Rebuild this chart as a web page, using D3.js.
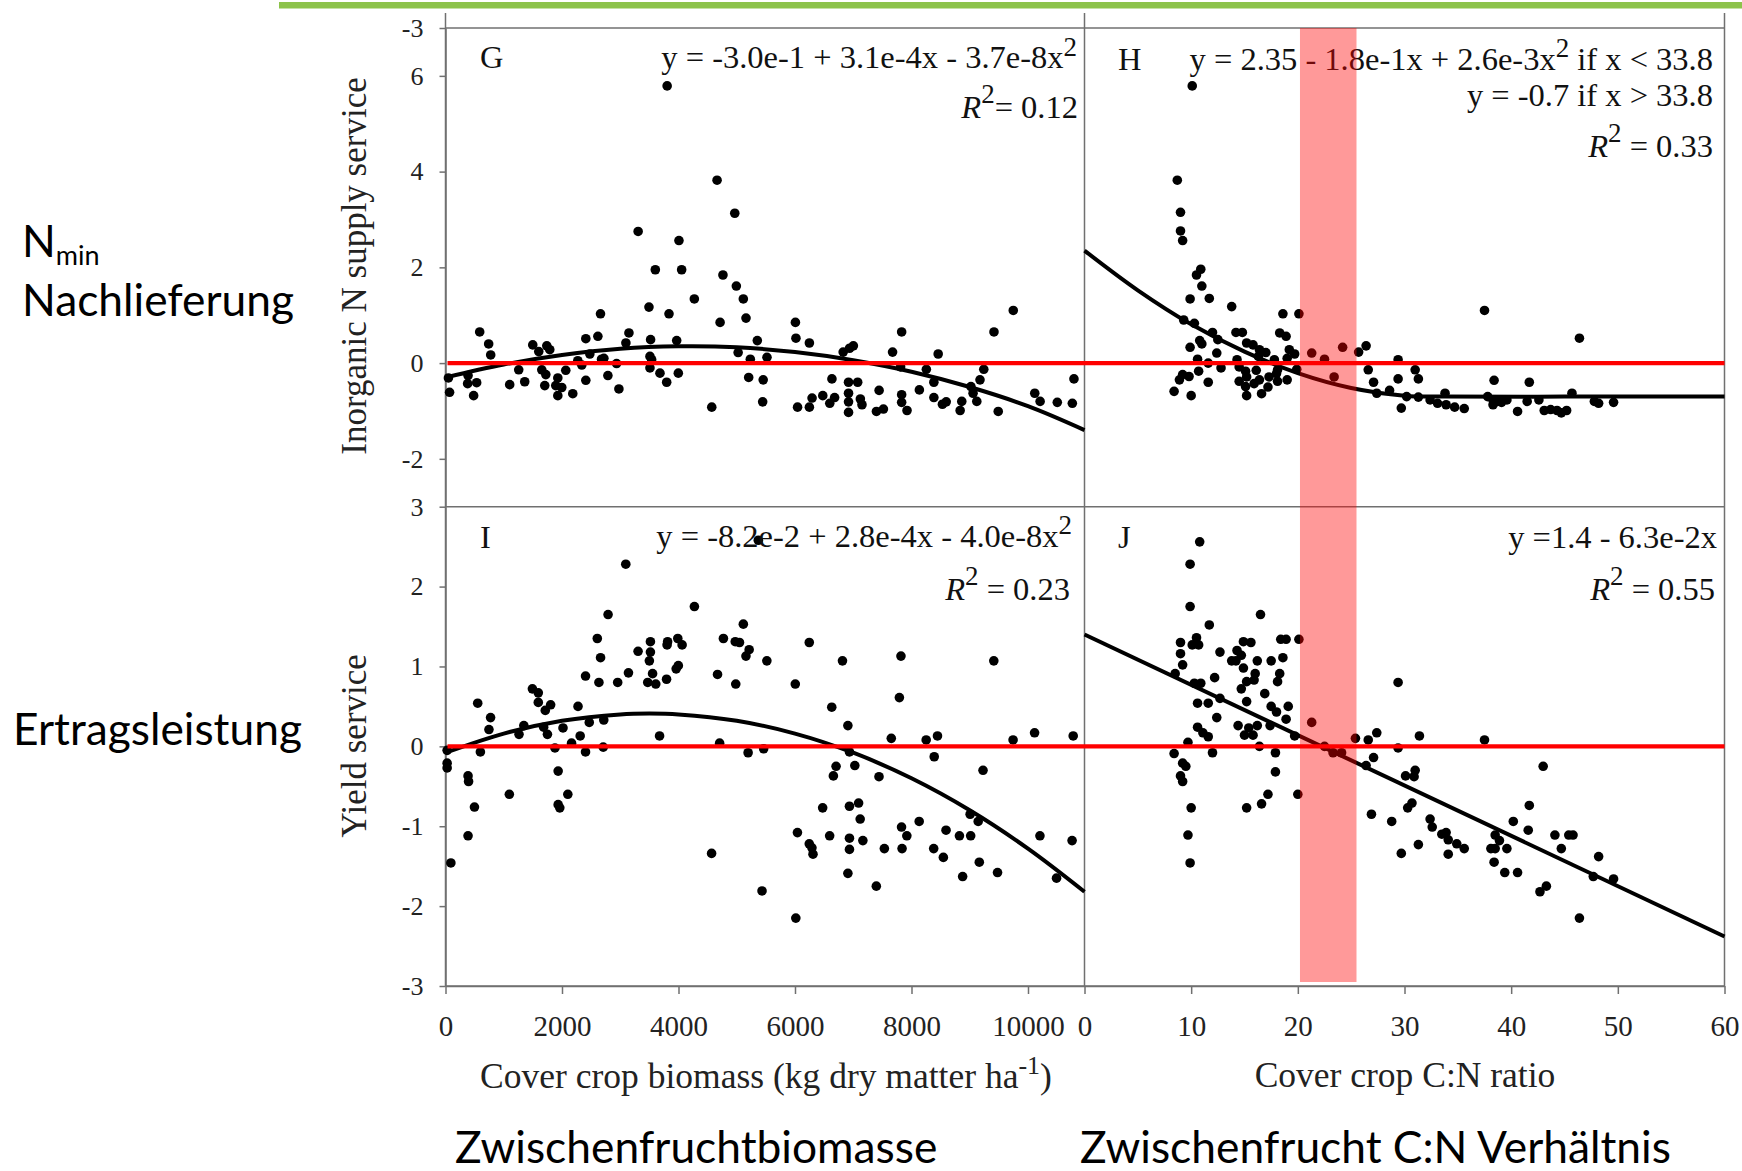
<!DOCTYPE html>
<html>
<head>
<meta charset="utf-8">
<script src="https://cdn.jsdelivr.net/npm/d3@7"></script>
<style>
  body { margin: 0; background: #fff; }
  svg { display: block; }
</style>
</head>
<body>
<div id="chart"></div>
<script>
// Cover crop services vs. biomass (left) and C:N ratio (right)
// top row: inorganic N supply service, bottom row: yield service

// ---- tick values / labels ----
const bioTicks = [0, 2000, 4000, 6000, 8000, 10000];
const cnTicks = [0, 10, 20, 30, 40, 50, 60];
const topTickValues = [-2, 0, 2, 4, 6, 7];
const topTickLabels = ["-2", "0", "2", "4", "6", "-3"];
const botTickValues = [-3, -2, -1, 0, 1, 2, 3];
const botTickLabels = ["-3", "-2", "-1", "0", "1", "2", "3"];

// shaded C:N range
const cnBand = [20.2, 25.5];

// ---- G : N supply vs biomass ----
const gPoints = [
  [3805,5.79],[4662,3.82],[4966,3.13],[3307,2.75],[4008,2.56],[3602,1.95],[4054,1.95],[4763,1.84],
  [4993,1.61],[5113,1.34],[4272,1.34],[3493,1.17],[3837,1.03],[2661,1.03],[5159,0.94],[9747,1.10],
  [4714,0.85],[6007,0.85],
  [587,0.65],[741,0.40],[776,0.17],[70,-0.61],[50,-0.31],[387,-0.26],[380,-0.43],[535,-0.41],[483,-0.68],
  [1102,-0.45],[1257,-0.14],[1360,-0.39],[1498,0.38],[1601,0.24],[1739,0.36],[1790,0.28],[1653,-0.14],
  [1722,-0.24],[1704,-0.47],[1928,-0.31],[1893,-0.47],[1996,-0.51],[1928,-0.68],[2065,-0.15],[2185,-0.64],
  [2271,0.05],[2340,-0.04],[2409,0.51],[2409,-0.36],[2616,0.56],[2478,0.19],[2679,0.08],[2719,0.10],
  [2788,-0.26],[2937,-0.01],[2977,-0.54],[3097,0.42],[3149,0.63],[3521,0.49],[3510,0.14],[3539,0.07],
  [3510,-0.10],[3682,-0.21],[3797,-0.40],[3969,0.47],[3997,-0.21],[5024,0.22],[4571,-0.92],
  [5353,0.47],[6016,0.52],[6247,0.42],[7002,0.36],[6937,0.31],[6827,0.23],[7675,0.23],[8458,0.19],
  [5233,0.08],[5519,0.12],[5205,-0.30],[5454,-0.35],[5445,-0.81],[6044,-0.92],[6247,-0.92],[6293,-0.73],
  [6477,-0.68],[6634,-0.33],[6597,-0.84],[6680,-0.72],[6919,-0.40],[6919,-0.63],[6919,-0.81],[6919,-1.03],
  [7076,-0.40],[7122,-0.75],[7150,-0.87],[7444,-0.57],[7398,-1.01],[7518,-0.96],[7813,-0.08],[7831,0.65],
  [9416,0.65],[7831,-0.66],[7831,-0.82],[7923,-0.99],[8135,-0.56],[8255,-0.13],[8384,-0.40],[8384,-0.72],
  [8531,-0.86],[8596,-0.81],[8835,-0.99],[8863,-0.80],[9020,-0.49],[9057,-0.63],[9121,-0.80],[9176,-0.35],
  [9241,-0.13],[9489,-1.01],[10116,-0.63],[10208,-0.80],[10503,-0.82],[10761,-0.84],[10789,-0.33]
];
const gCurve = [
  [0,-0.30],[1000,-0.03],[2000,0.17],[3000,0.30],[4000,0.35],[5000,0.33],[6000,0.23],
  [7000,0.06],[8000,-0.18],[9000,-0.50],[10000,-0.90],[10970,-1.40]
];

// ---- H : N supply vs C:N ----
const hPoints = [
  [10.1,5.79],[8.7,3.82],[9.0,3.15],[9.0,2.76],[9.2,2.56],[10.9,1.96],[10.5,1.84],[11.0,1.61],
  [9.9,1.34],[11.7,1.35],[13.8,1.18],[18.6,1.03],[20.1,1.03],[37.5,1.10],[46.4,0.52],
  [9.3,0.90],[10.3,0.83],[12.0,0.64],[14.2,0.64],[14.8,0.64],[18.3,0.63],[18.9,0.56],[10.8,0.47],
  [11.0,0.40],[12.5,0.49],[9.9,0.33],[15.2,0.42],[15.8,0.38],[16.4,0.28],[17.0,0.22],[19.2,0.28],
  [19.7,0.19],[21.3,0.21],[24.2,0.33],[25.7,0.23],[26.4,0.36],[12.4,0.21],[10.6,0.08],[11.6,0.00],
  [14.3,0.07],[16.3,0.14],[17.8,0.07],[19.0,0.10],[22.5,0.08],[29.4,0.07],[12.8,-0.10],[14.5,-0.08],
  [15.1,-0.17],[16.1,-0.15],[18.1,-0.14],[19.9,-0.13],[26.6,-0.14],[31.0,-0.14],[10.7,-0.17],[9.2,-0.24],
  [8.9,-0.35],[9.8,-0.28],[11.6,-0.40],[14.5,-0.38],[15.2,-0.29],[16.4,-0.35],[17.3,-0.29],[18.0,-0.22],
  [19.0,-0.35],[23.4,-0.29],[27.1,-0.40],[29.4,-0.33],[31.3,-0.33],[8.4,-0.59],[10.0,-0.68],[15.1,-0.49],
  [15.2,-0.68],[15.9,-0.43],[16.6,-0.64],[17.2,-0.50],[18.1,-0.38],[27.4,-0.63],[28.6,-0.57],[30.2,-0.70],
  [31.3,-0.71],[29.7,-0.94],[32.4,-0.77],[33.1,-0.84],[33.8,-0.63],[33.9,-0.87],[34.7,-0.92],[35.6,-0.95],
  [37.8,-0.70],[38.4,-0.36],[41.7,-0.40],[38.3,-0.77],[38.7,-0.80],[39.1,-0.82],[39.6,-0.77],[40.6,-1.01],
  [41.5,-0.80],[42.6,-0.77],[43.1,-0.99],[43.7,-0.97],[44.3,-0.99],[44.7,-1.04],[45.2,-0.99],[45.7,-0.63],
  [47.8,-0.80],[48.2,-0.84],[49.6,-0.82],[38.3,-0.87]
];
const hCurve = [
  [0,2.35],[5,1.52],[10,0.81],[15,0.24],[20,-0.21],[25,-0.52],[30,-0.68],[33.8,-0.70],[45,-0.70],[60,-0.70]
];

// ---- I : yield vs biomass ----
const iPoints = [
  [3095,2.28],[5370,2.58],[4273,1.75],[2791,1.65],[5113,1.53],[2606,1.35],[3518,1.31],[3813,1.31],
  [3988,1.35],[4771,1.35],[4974,1.31],[5047,1.30],[6245,1.30],[4062,1.27],[3804,1.27],[3306,1.19],
  [3518,1.18],[5213,1.21],[5158,1.13],[2662,1.11],[3500,1.07],[5517,1.07],[6815,1.07],[7819,1.13],
  [9413,1.07],[3997,1.01],[3960,0.97],[3141,0.92],[3555,0.91],[4670,0.90],[2404,0.88],[2634,0.80],
  [2956,0.80],[3472,0.80],[3610,0.78],[3795,0.84],[4983,0.78],[6005,0.78],[1492,0.72],[1593,0.67],
  [1593,0.55],[553,0.54],[1805,0.52],[2275,0.50],[1713,0.45],[7792,0.61],[6631,0.49],[774,0.36],
  [1345,0.26],[1685,0.24],[2717,0.33],[2468,0.30],[6908,0.26],[746,0.21],[2017,0.23],[1262,0.15],
  [1750,0.15],[2312,0.13],[3675,0.13],[7653,0.10],[8252,0.08],[8446,0.13],[9744,0.08],[10113,0.17],
  [10776,0.13],[2164,0.04],[4706,0.04],[28,-0.05],[599,-0.07],[1879,-0.02],[2404,-0.07],[2708,-0.01],
  [5195,-0.08],[5462,-0.03],[6935,-0.07],[28,-0.21],[28,-0.27],[387,-0.37],[396,-0.44],[1934,-0.31],
  [6705,-0.25],[7027,-0.24],[6659,-0.37],[7442,-0.38],[8390,-0.13],[9228,-0.30],[497,-0.76],[1096,-0.60],
  [2100,-0.60],[1934,-0.73],[1962,-0.77],[387,-1.12],[92,-1.46],[4568,-1.34],[5434,-1.81],[6014,-2.15],
  [6042,-1.08],[6245,-1.22],[6291,-1.27],[6309,-1.35],[6475,-0.77],[6595,-1.12],[6935,-0.75],[7092,-0.71],
  [7119,-0.91],[6935,-1.15],[6935,-1.29],[6908,-1.59],[7165,-1.18],[7396,-1.75],[7534,-1.28],[7829,-1.01],
  [7838,-1.28],[7920,-1.12],[8132,-0.94],[8381,-1.28],[8547,-1.39],[8593,-1.05],[8823,-1.12],[8878,-1.63],
  [9016,-1.12],[9007,-0.85],[9145,-0.94],[9164,-1.45],[9477,-1.58],[10205,-1.12],[10490,-1.65],[10757,-1.18]
];
const iCurve = [
  [0,-0.08],[1000,0.16],[2000,0.32],[3000,0.40],[3500,0.41],[4000,0.40],[5000,0.32],[6000,0.16],
  [7000,-0.08],[8000,-0.40],[9000,-0.80],[10000,-1.28],[10970,-1.82]
];

// ---- J : yield vs C:N ----
const jPoints = [
  [10.8,2.56],[9.9,2.28],[9.9,1.75],[16.5,1.65],[11.7,1.52],[9.0,1.30],[10.5,1.36],[10.1,1.27],
  [10.7,1.27],[9.0,1.16],[9.2,1.02],[8.5,0.91],[14.9,1.31],[15.6,1.30],[18.4,1.34],[18.9,1.34],
  [20.1,1.34],[12.7,1.18],[14.3,1.20],[14.7,1.14],[13.8,1.07],[14.2,1.07],[16.2,1.07],[17.5,1.07],
  [18.6,1.11],[14.9,0.98],[16.0,0.91],[18.3,0.91],[12.2,0.86],[15.9,0.83],[15.2,0.81],[18.1,0.81],
  [14.7,0.72],[10.3,0.79],[10.9,0.79],[16.9,0.66],[12.7,0.60],[10.6,0.54],[11.6,0.54],[15.2,0.56],
  [17.5,0.50],[19.1,0.50],[18.0,0.43],[12.4,0.36],[18.9,0.34],[21.3,0.30],[14.4,0.26],[10.6,0.24],
  [11.1,0.17],[11.6,0.12],[15.4,0.23],[16.2,0.26],[15.0,0.14],[15.8,0.14],[17.4,0.26],[19.7,0.13],
  [9.7,0.05],[16.4,0.00],[8.4,-0.09],[12.0,-0.08],[17.9,-0.08],[9.2,-0.21],[9.5,-0.25],[9.0,-0.37],
  [9.2,-0.44],[17.9,-0.32],[25.4,0.10],[22.5,0.00],[23.3,-0.08],[24.1,-0.08],[17.2,-0.60],[20.0,-0.60],
  [16.6,-0.72],[15.2,-0.77],[10.0,-0.77],[9.7,-1.11],[9.9,-1.46],
  [29.4,0.80],[27.4,0.17],[31.4,0.13],[37.5,0.08],[26.6,0.08],[29.4,-0.02],[27.1,-0.14],[26.4,-0.24],
  [30.1,-0.37],[31.0,-0.30],[30.9,-0.38],[43.0,-0.25],[30.7,-0.71],[30.3,-0.77],[26.9,-0.85],[28.8,-0.94],
  [32.4,-0.91],[32.6,-1.01],[41.7,-0.74],[40.2,-0.94],[41.6,-1.05],[33.5,-1.10],[33.9,-1.08],[34.1,-1.17],
  [34.9,-1.22],[35.6,-1.28],[38.5,-1.11],[38.9,-1.18],[38.1,-1.28],[38.5,-1.28],[39.6,-1.28],[31.3,-1.23],
  [29.7,-1.34],[34.1,-1.35],[44.1,-1.11],[45.4,-1.11],[45.8,-1.11],[44.7,-1.28],[38.4,-1.45],[39.4,-1.58],
  [40.6,-1.58],[48.2,-1.38],[47.7,-1.63],[49.6,-1.66],[42.7,-1.82],[43.3,-1.75],[46.4,-2.15]
];
const jCurve = [[0,1.40],[60,-2.38]];

// ---------- layout ----------
const W = 1742, H = 1171;
const serif = "'Liberation Serif', 'Times New Roman', serif";
const sans = "Lato, 'Open Sans', sans-serif";
const frameColor = "#707070";

const svg = d3.select("#chart").append("svg")
  .attr("width", W)
  .attr("height", H);

const xBio = d3.scaleLinear().domain([0, 10970]).range([445.5, 1084.5]);
const xCN = d3.scaleLinear().domain([0, 60]).range([1084.5, 1724.5]);
const yTop = d3.scaleLinear().domain([-3, 7]).range([506.7, 28]);
const yBot = d3.scaleLinear().domain([-3, 3]).range([986, 506.7]);

// green bar on top
svg.append("rect")
  .attr("x", 279).attr("y", 2)
  .attr("width", W - 279).attr("height", 6.5)
  .attr("fill", "#8dc34b");

// frame
const frame = svg.append("g")
  .attr("stroke", frameColor)
  .attr("stroke-width", 1.5)
  .attr("fill", "none");
[xBio(0), xCN(0), xCN(60)].forEach(x => {
  frame.append("line").attr("x1", x).attr("x2", x).attr("y1", 13).attr("y2", yBot(-3));
});
[yTop(7), yTop(-3)].forEach(y => {
  frame.append("line").attr("x1", xBio(0)).attr("x2", xCN(60)).attr("y1", y).attr("y2", y);
});
frame.append("line").attr("x1", xBio(0)).attr("x2", xCN(60))
  .attr("y1", yBot(-3)).attr("y2", yBot(-3));

// axes
function styleAxis(g, size) {
  g.select(".domain").attr("stroke", frameColor).attr("stroke-width", 1.5);
  g.selectAll(".tick line").attr("stroke", frameColor).attr("stroke-width", 1.5);
  g.selectAll(".tick text")
    .style("font-family", serif)
    .style("font-size", size + "px")
    .attr("fill", "#222");
}

svg.append("g")
  .attr("transform", `translate(${xBio(0)},0)`)
  .call(d3.axisLeft(yTop).tickValues(topTickValues)
    .tickFormat((d, i) => topTickLabels[i]).tickSize(6).tickSizeOuter(0).tickPadding(16))
  .call(g => styleAxis(g, 26));

svg.append("g")
  .attr("transform", `translate(${xBio(0)},0)`)
  .call(d3.axisLeft(yBot).tickValues(botTickValues)
    .tickFormat((d, i) => botTickLabels[i]).tickSize(6).tickSizeOuter(0).tickPadding(16))
  .call(g => styleAxis(g, 26));

svg.append("g")
  .attr("transform", `translate(0,${yBot(-3)})`)
  .call(d3.axisBottom(xBio).tickValues(bioTicks).tickFormat(d => String(d))
    .tickSize(8).tickSizeOuter(0).tickPadding(21))
  .call(g => styleAxis(g, 29));

svg.append("g")
  .attr("transform", `translate(0,${yBot(-3)})`)
  .call(d3.axisBottom(xCN).tickValues(cnTicks).tickFormat(d => String(d))
    .tickSize(8).tickSizeOuter(0).tickPadding(21))
  .call(g => styleAxis(g, 29));

// panels
const panels = [
  { pts: gPoints, curve: gCurve, x: xBio, y: yTop },
  { pts: hPoints, curve: hCurve, x: xCN, y: yTop },
  { pts: iPoints, curve: iCurve, x: xBio, y: yBot },
  { pts: jPoints, curve: jCurve, x: xCN, y: yBot }
];

panels.forEach(p => {
  const g = svg.append("g");
  g.selectAll("circle")
    .data(p.pts)
    .enter().append("circle")
    .attr("cx", d => p.x(d[0]))
    .attr("cy", d => p.y(d[1]))
    .attr("r", 4.8)
    .attr("fill", "#000");

  g.append("path")
    .datum(p.curve)
    .attr("fill", "none")
    .attr("stroke", "#000")
    .attr("stroke-width", 4)
    .attr("d", d3.line().x(d => p.x(d[0])).y(d => p.y(d[1])).curve(d3.curveCatmullRom));
});

// red zero lines
[yTop, yBot].forEach(y => {
  svg.append("line")
    .attr("x1", xBio(0) + 2).attr("x2", xCN(60))
    .attr("y1", y(0)).attr("y2", y(0))
    .attr("stroke", "#ff0000")
    .attr("stroke-width", 4.2);
});

// ---------- texts ----------
function eq(x, y, parts, anchor) {
  const t = svg.append("text")
    .attr("x", x).attr("y", y)
    .attr("text-anchor", anchor || "end")
    .style("font-family", serif)
    .style("font-size", "32.5px")
    .attr("fill", "#111");
  parts.forEach(p => {
    const s = t.append("tspan").text(p.t);
    if (p.sup) s.style("font-size", "27px").attr("dy", -p.sup);
    if (p.down) s.attr("dy", p.down);
    if (p.it) s.style("font-style", "italic");
  });
  return t;
}

// panel letters
eq(480, 68, [{ t: "G" }], "start");
eq(1118, 70, [{ t: "H" }], "start");
eq(480, 548, [{ t: "I" }], "start");
eq(1118, 548, [{ t: "J" }], "start");

eq(1077, 68, [{ t: "y = -3.0e-1 + 3.1e-4x - 3.7e-8x" }, { t: "2", sup: 12 }]);
eq(1078, 118, [{ t: "R", it: true }, { t: "2", sup: 15 }, { t: "= 0.12", down: 15 }]);

eq(1713, 70, [{ t: "y = 2.35 - 1.8e-1x + 2.6e-3x" }, { t: "2", sup: 13 }, { t: " if x < 33.8", down: 13 }]);
eq(1713, 106, [{ t: "y = -0.7 if x > 33.8" }]);
eq(1713, 157, [{ t: "R", it: true }, { t: "2", sup: 15 }, { t: " = 0.33", down: 15 }]);

eq(1072, 547, [{ t: "y = -8.2e-2 + 2.8e-4x - 4.0e-8x" }, { t: "2", sup: 13 }]);
eq(1070, 600, [{ t: "R", it: true }, { t: "2", sup: 15 }, { t: " = 0.23", down: 15 }]);

eq(1717, 548, [{ t: "y =1.4 - 6.3e-2x" }]);
eq(1715, 600, [{ t: "R", it: true }, { t: "2", sup: 15 }, { t: " = 0.55", down: 15 }]);

// axis titles
svg.append("text")
  .attr("transform", "translate(366,266) rotate(-90)")
  .attr("text-anchor", "middle")
  .style("font-family", serif).style("font-size", "35px")
  .attr("fill", "#222")
  .text("Inorganic N supply service");

svg.append("text")
  .attr("transform", "translate(366,746) rotate(-90)")
  .attr("text-anchor", "middle")
  .style("font-family", serif).style("font-size", "35px")
  .attr("fill", "#222")
  .text("Yield service");

const xt = svg.append("text")
  .attr("x", 766).attr("y", 1088)
  .attr("text-anchor", "middle")
  .style("font-family", serif).style("font-size", "35.5px")
  .attr("fill", "#222");
xt.append("tspan").text("Cover crop biomass (kg dry matter ha");
xt.append("tspan").text("-1").style("font-size", "26px").attr("dy", -14);
xt.append("tspan").text(")").attr("dy", 14);

svg.append("text")
  .attr("x", 1405).attr("y", 1087)
  .attr("text-anchor", "middle")
  .style("font-family", serif).style("font-size", "35.5px")
  .attr("fill", "#222")
  .text("Cover crop C:N ratio");

// German labels
function de(x, y, txt) {
  return svg.append("text")
    .attr("x", x).attr("y", y)
    .style("font-family", sans)
    .style("font-size", "44.3px")
    .attr("fill", "#000")
    .text(txt);
}
const nmin = de(22, 257, "N");
nmin.append("tspan").text("min").style("font-size", "27px").attr("dy", 8);
de(22, 316, "Nachlieferung");
de(13, 745, "Ertragsleistung");
de(455, 1163, "Zwischenfruchtbiomasse");
de(1080, 1163, "Zwischenfrucht C:N Verhältnis");

// shaded C:N band on top of everything
svg.append("rect")
  .attr("x", xCN(cnBand[0]))
  .attr("y", yTop(7))
  .attr("width", xCN(cnBand[1]) - xCN(cnBand[0]))
  .attr("height", yBot(-2.95) - yTop(7))
  .attr("fill", "#ff0000")
  .attr("fill-opacity", 0.4);
</script>
</body>
</html>
